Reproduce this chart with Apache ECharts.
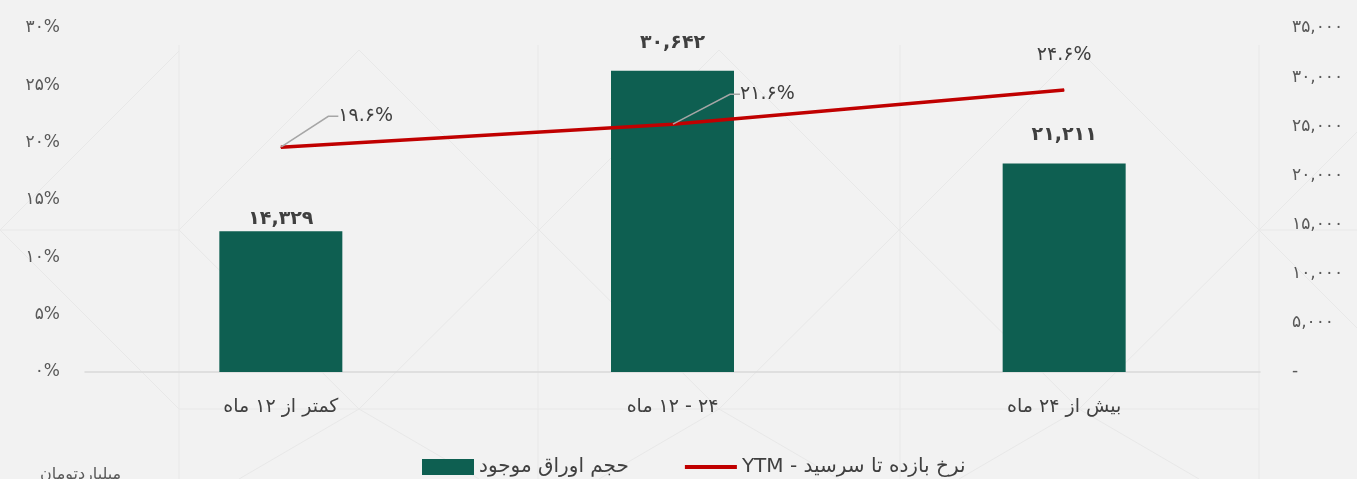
<!DOCTYPE html>
<html>
<head>
<meta charset="utf-8">
<script src="https://cdn.jsdelivr.net/npm/echarts@6/dist/echarts.min.js"></script>
<style>
  html, body { margin: 0; padding: 0; background: #f2f2f2; }
  #chart { width: 1357px; height: 479px; }
</style>
</head>
<body>
<div id="chart"></div>
<script>
var categories = ['کمتر از ۱۲ ماه', '۲۴ - ۱۲ ماه', 'بیش از ۲۴ ماه'];
var volume = [14329, 30642, 21211];      // حجم اوراق موجود (میلیارد تومان)
var ytm = [19.6, 21.6, 24.6];            // نرخ بازده تا سرسید (%)
var barName = 'حجم اوراق موجود';
var lineName = 'نرخ بازده تا سرسید - YTM';
var unitText = 'میلیاردتومان';

var FONT = 'DejaVu Sans';

function fa(s) {
    return String(s).replace(/\d/g, function(d) { return '۰۱۲۳۴۵۶۷۸۹'[d]; });
}
function faNum(v) {
    return fa(Math.round(v).toString().replace(/\B(?=(\d{3})+(?!\d))/g, ','));
}
// wrap text in a right-to-left embedding so canvas lays it out like the original
function rtl(s) {
    return '\u202B' + s + '\u202C';
}

// label tweaks (Excel-style hand placed labels)
var barLabelGap = [3, 18, 19];
var lineLabelShift = [[52, -31], [62, -30], [0, -20]];

// faint diamond pattern of the slide background
function bgPattern() {
    var c = '#e8e8e8';
    var segs = [];
    [179, 538, 900, 1259].forEach(function(x) {
        segs.push([x, 45, x, 479]);
    });
    [359, 719, 1079].forEach(function(x) {
        segs.push([x - 180, 230, x, 50], [x, 50, x + 180, 230],
                  [x - 180, 230, x, 409], [x, 409, x + 180, 230],
                  [x - 180, 409, x + 180, 409],
                  [x, 409, x - 120, 479], [x, 409, x + 120, 479]);
    });
    segs.push([0, 230, 179, 51], [0, 230, 179, 409], [0, 230, 179, 230],
              [1259, 230, 1357, 132], [1259, 230, 1357, 328], [1259, 230, 1357, 230]);
    return segs.map(function(s) {
        return {
            type: 'line',
            silent: true,
            z: -10,
            shape: { x1: s[0], y1: s[1], x2: s[2], y2: s[3] },
            style: { stroke: c, lineWidth: 1 }
        };
    });
}

var myChart = echarts.init(document.getElementById('chart'));

myChart.setOption({
    backgroundColor: '#f2f2f2',
    animation: false,
    textStyle: { fontFamily: FONT },
    grid: { left: 85, right: 97, top: 28, bottom: 107 },
    legend: {
        left: 417,
        bottom: 0,
        padding: [5, 5, 2, 5],
        itemWidth: 52,
        itemHeight: 16,
        itemGap: 56,
        formatter: function(name) { return rtl(name); },
        textStyle: { fontFamily: FONT, fontSize: 20, color: '#404040' },
        data: [
            { name: barName, icon: 'rect' },
            { name: lineName, icon: 'path://M0,0H52V4H0Z' }
        ]
    },
    xAxis: {
        type: 'category',
        data: categories,
        axisTick: { show: false },
        axisLine: { lineStyle: { color: '#d9d9d9', width: 1.5 } },
        axisLabel: {
            margin: 26,
            fontFamily: FONT,
            fontSize: 19,
            color: '#404040',
            formatter: function(v) { return rtl(v); }
        }
    },
    yAxis: [{
        type: 'value',
        min: 0,
        max: 30,
        interval: 5,
        splitLine: { show: false },
        axisLabel: {
            margin: 25,
            fontFamily: FONT,
            fontSize: 17,
            color: '#595959',
            formatter: function(v) { return fa(v) + '%'; }
        }
    }, {
        type: 'value',
        min: 0,
        max: 35000,
        interval: 5000,
        splitLine: { show: false },
        axisLabel: {
            margin: 32,
            fontFamily: FONT,
            fontSize: 17,
            color: '#595959',
            formatter: function(v) { return v === 0 ? '-' : faNum(v); }
        }
    }],
    graphic: bgPattern().concat([{
        type: 'text',
        left: 40,
        top: 467,
        style: { text: rtl(unitText), fontFamily: FONT, fontSize: 16, fill: '#595959' }
    }]),
    series: [{
        name: barName,
        type: 'bar',
        yAxisIndex: 1,
        barWidth: 123,
        itemStyle: { color: '#0e5f51' },
        data: volume.map(function(v, i) {
            return { value: v, label: { distance: barLabelGap[i] } };
        }),
        label: {
            show: true,
            position: 'top',
            fontFamily: FONT,
            fontSize: 19,
            fontWeight: 'bold',
            color: '#404040',
            formatter: function(p) { return faNum(p.value); }
        }
    }, {
        name: lineName,
        type: 'line',
        yAxisIndex: 0,
        symbol: 'circle',
        symbolSize: 1,
        showSymbol: true,
        lineStyle: { color: '#c00000', width: 3.5 },
        itemStyle: { color: '#c00000' },
        data: ytm.map(function(v, i) {
            return {
                value: v,
                label: { position: i < 2 ? 'right' : 'top' },
                labelLine: { show: i < 2 }
            };
        }),
        label: {
            show: true,
            fontFamily: FONT,
            fontSize: 19,
            color: '#404040',
            formatter: function(p) { return fa(p.value.toFixed(1)) + '%'; }
        },
        labelLine: {
            smooth: false,
            length2: 10,
            lineStyle: { color: '#a6a6a6', width: 1.5 }
        },
        labelLayout: function(params) {
            var s = lineLabelShift[params.dataIndex];
            return { dx: s[0], dy: s[1] };
        }
    }]
});
</script>
</body>
</html>
